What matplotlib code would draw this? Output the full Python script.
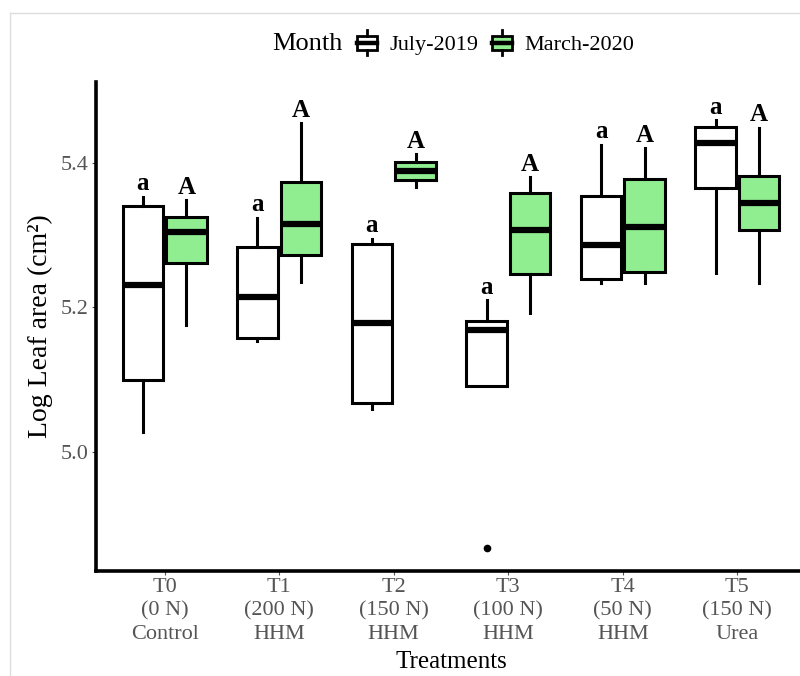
import numpy as np
import matplotlib
matplotlib.use('Agg')
import matplotlib.pyplot as plt
from matplotlib.patches import Rectangle
from matplotlib.lines import Line2D
from matplotlib.legend_handler import HandlerBase

plt.rcParams['font.family'] = ['Liberation Serif', 'DejaVu Serif']

treatments = ['T0\n(0 N)\nControl', 'T1\n(200 N)\nHHM', 'T2\n(150 N)\nHHM',
              'T3\n(100 N)\nHHM', 'T4\n(50 N)\nHHM', 'T5\n(150 N)\nUrea']
months = ['July-2019', 'March-2020']
colors = ['white', '#90EE90']

# July-2019
july_lo = [5.028, 5.154, 5.059, 5.091, 5.234, 5.248]
july_q1 = [5.100, 5.157, 5.067, 5.091, 5.239, 5.365]
july_med = [5.231, 5.215, 5.178, 5.168, 5.286, 5.428]
july_q3 = [5.341, 5.284, 5.288, 5.181, 5.354, 5.450]
july_hi = [5.353, 5.324, 5.295, 5.210, 5.425, 5.459]
july_out = [[], [], [], [4.867], [], []]
july_letters = ['a', 'a', 'a', 'a', 'a', 'a']

# March-2020
march_lo = [5.175, 5.235, 5.367, 5.192, 5.234, 5.234]
march_q1 = [5.262, 5.273, 5.376, 5.246, 5.249, 5.307]
march_med = [5.305, 5.315, 5.389, 5.307, 5.311, 5.345]
march_q3 = [5.325, 5.373, 5.401, 5.358, 5.378, 5.382]
march_hi = [5.348, 5.455, 5.412, 5.380, 5.420, 5.449]
march_out = [[], [], [], [], [], []]
march_letters = ['A', 'A', 'A', 'A', 'A', 'A']

series = [
    (july_lo, july_q1, july_med, july_q3, july_hi, july_out, july_letters),
    (march_lo, march_q1, march_med, march_q3, march_hi, march_out, march_letters),
]

fig = plt.figure(figsize=(8, 6.76), dpi=100)
ax = fig.add_axes([0.12, 0.1553, 0.8875, 0.7234])

x = np.arange(1, len(treatments) + 1)
offsets = [-0.19, 0.19]
for (lo, q1, med, q3, hi, out, letters), off, col in zip(series, offsets, colors):
    stats = [dict(whislo=lo[i], q1=q1[i], med=med[i], q3=q3[i], whishi=hi[i],
                  fliers=out[i]) for i in range(len(x))]
    ax.bxp(stats, positions=x + off, widths=0.35, patch_artist=True,
           showcaps=False, manage_ticks=False,
           boxprops=dict(facecolor=col, edgecolor='black', linewidth=2.2),
           medianprops=dict(color='black', linewidth=4.5, solid_capstyle='butt'),
           whiskerprops=dict(color='black', linewidth=2.2),
           flierprops=dict(marker='o', markerfacecolor='black',
                           markeredgecolor='black', markersize=4.5))
    for i in range(len(x)):
        ax.text(x[i] + off, hi[i] + 0.002, letters[i], ha='center', va='bottom',
                fontsize=18, fontweight='bold')

ax.set_xlim(0.4, 6.6)
ax.set_ylim(4.835, 5.512)
ax.set_yticks([5.0, 5.2, 5.4])
ax.set_yticklabels(['5.0', '5.2', '5.4'])
ax.set_xticks(x)
ax.set_xticklabels(treatments, linespacing=1.3)
ax.tick_params(axis='both', colors='#555555', labelsize=16, length=3, width=0.8,
               pad=2)
for s in ['top', 'right']:
    ax.spines[s].set_visible(False)
for s in ['left', 'bottom']:
    ax.spines[s].set_linewidth(2.6)
    ax.spines[s].set_color('black')

ax.set_ylabel('Log Leaf area (cm²)', fontsize=20, labelpad=6)
ax.set_xlabel('Treatments', fontsize=18, labelpad=5)


class BoxKey(HandlerBase):
    def create_artists(self, legend, orig_handle, xdescent, ydescent, width,
                       height, fontsize, trans):
        cx = width / 2 - xdescent
        bw = width * 0.8
        bh = height * 0.7
        by = (height - bh) / 2 - ydescent
        rect = Rectangle((cx - bw / 2, by), bw, bh,
                         facecolor=orig_handle.get_facecolor(),
                         edgecolor='black', linewidth=2, transform=trans)
        med = Line2D([cx - bw / 2, cx + bw / 2], [by + bh / 2] * 2,
                     color='black', linewidth=3.2, transform=trans)
        w1 = Line2D([cx, cx], [by + bh, height - ydescent + 2], color='black',
                    linewidth=2, transform=trans)
        w2 = Line2D([cx, cx], [by, -ydescent - 2], color='black',
                    linewidth=2, transform=trans)
        return [rect, w1, w2, med]


handles = [Rectangle((0, 0), 1, 1, facecolor=c) for c in colors]
fig.text(272 / 800, 1 - 44 / 676, 'Month', fontsize=19, ha='left', va='center')
fig.legend(handles, months, handler_map={Rectangle: BoxKey()}, ncol=2,
           loc='center left', bbox_to_anchor=(355 / 800, 1 - 44 / 676),
           frameon=False, fontsize=16, handlelength=1.1, handleheight=1.0,
           handletextpad=0.45, columnspacing=0.5, borderpad=0, borderaxespad=0)

# light grey frame around the screenshot
fig.add_artist(Line2D([9.5 / 800, 9.5 / 800], [0, 1 - 12.7 / 676],
                      transform=fig.transFigure, color='#dddddd', linewidth=1))
fig.add_artist(Line2D([9.5 / 800, 1], [1 - 12.7 / 676] * 2,
                      transform=fig.transFigure, color='#dddddd', linewidth=1))

fig.savefig('out.png', dpi=100)
